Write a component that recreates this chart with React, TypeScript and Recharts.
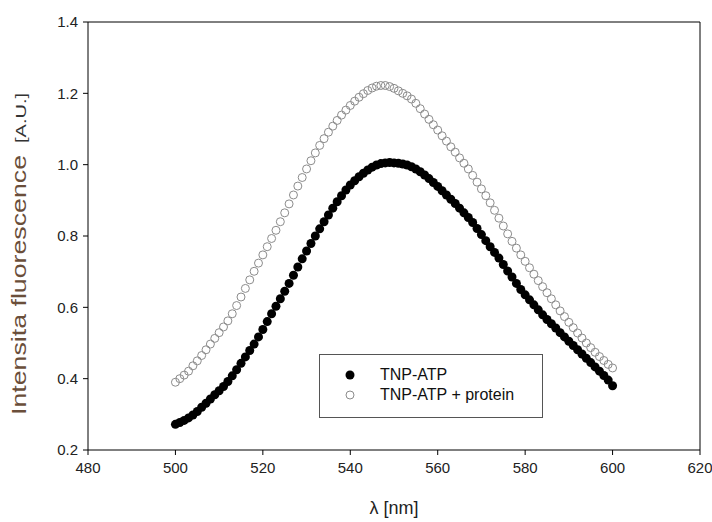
import React from "react";
import { ScatterChart, Scatter, XAxis, YAxis, ReferenceLine, Label } from "recharts";

const wavelengths: number[] = [];
for (let w = 500; w <= 600; w += 1) wavelengths.push(w);

const tnpAtp = [
  0.272, 0.277, 0.283, 0.290, 0.298, 0.308, 0.320, 0.331, 0.343, 0.355,
  0.366, 0.378, 0.392, 0.408, 0.425, 0.443, 0.461, 0.479, 0.497, 0.517,
  0.538, 0.560, 0.582, 0.603, 0.624, 0.645, 0.667, 0.690, 0.713, 0.736,
  0.758, 0.779, 0.800, 0.820, 0.840, 0.859, 0.878, 0.896, 0.913, 0.929,
  0.943, 0.955, 0.966, 0.976, 0.985, 0.993, 0.999, 1.003, 1.005, 1.006,
  1.005, 1.004, 1.002, 0.999, 0.994, 0.988, 0.980, 0.971, 0.961, 0.950,
  0.939, 0.927, 0.915, 0.903, 0.891, 0.878, 0.865, 0.852, 0.838, 0.821,
  0.804, 0.787, 0.770, 0.754, 0.738, 0.720, 0.702, 0.685, 0.667, 0.650,
  0.635, 0.621, 0.607, 0.593, 0.579, 0.566, 0.554, 0.542, 0.529, 0.517,
  0.505, 0.493, 0.481, 0.469, 0.457, 0.445, 0.433, 0.421, 0.409, 0.396,
  0.380,
];

const tnpAtpProtein = [
  0.390, 0.400, 0.410, 0.421, 0.436, 0.450, 0.465, 0.481, 0.497, 0.513,
  0.529, 0.545, 0.562, 0.582, 0.605, 0.629, 0.653, 0.677, 0.701, 0.724,
  0.747, 0.770, 0.793, 0.816, 0.840, 0.865, 0.890, 0.915, 0.940, 0.964,
  0.988, 1.011, 1.033, 1.054, 1.073, 1.091, 1.108, 1.124, 1.139, 1.153,
  1.166, 1.178, 1.189, 1.199, 1.208, 1.215, 1.220, 1.222, 1.222, 1.219,
  1.214, 1.207, 1.200, 1.193, 1.184, 1.172, 1.157, 1.142, 1.127, 1.112,
  1.097, 1.081, 1.066, 1.050, 1.035, 1.019, 1.004, 0.988, 0.970, 0.951,
  0.932, 0.913, 0.893, 0.872, 0.850, 0.828, 0.806, 0.785, 0.766, 0.747,
  0.729, 0.711, 0.693, 0.675, 0.658, 0.641, 0.624, 0.607, 0.590, 0.574,
  0.558, 0.543, 0.528, 0.514, 0.500, 0.487, 0.474, 0.462, 0.451, 0.440,
  0.430,
];

const xTicks = [480, 500, 520, 540, 560, 580, 600, 620];
const yTicks = [0.2, 0.4, 0.6, 0.8, 1.0, 1.2, 1.4];
const seriesNames = ["TNP-ATP", "TNP-ATP + protein"];

const dataA = wavelengths.map((x, i) => ({ x, y: tnpAtp[i] }));
const dataB = wavelengths.map((x, i) => ({ x, y: tnpAtpProtein[i] }));

const FONT = "'Liberation Sans', Arial, sans-serif";

const FilledDot = (p: any) => <circle cx={p.cx} cy={p.cy} r={4.5} fill="#000" />;
const OpenDot = (p: any) => (
  <circle cx={p.cx} cy={p.cy} r={4} fill="none" stroke="#8c8c8c" strokeWidth={1} />
);

const LegendBox = () => (
  <div
    style={{
      position: "absolute",
      left: 319,
      top: 354,
      width: 224,
      height: 64,
      border: "1px solid #555",
      background: "#fff",
      fontFamily: FONT,
      fontSize: 16,
      color: "#111",
      boxSizing: "border-box",
      paddingTop: 10,
    }}
  >
    {seriesNames.map((n, i) => (
      <div key={n} style={{ display: "flex", alignItems: "center", height: 20 }}>
        <svg width={60} height={20}>
          {i === 0 ? (
            <circle cx={30} cy={10} r={4.5} fill="#000" />
          ) : (
            <circle cx={30} cy={10} r={4} fill="none" stroke="#8c8c8c" />
          )}
        </svg>
        <span>{n}</span>
      </div>
    ))}
  </div>
);

const YLabel = () => (
  <g>
    <text
      x={26}
      y={285}
      transform="rotate(-90, 26, 285)"
      textAnchor="middle"
      fontFamily={FONT}
      fontSize={21}
      fill="#6a4e3a"
      textLength={260}
      lengthAdjust="spacingAndGlyphs"
    >
      Intensita fluorescence
    </text>
    <text
      x={26}
      y={118}
      transform="rotate(-90, 26, 118)"
      textAnchor="middle"
      fontFamily={FONT}
      fontSize={15}
      fill="#333"
      textLength={50}
      lengthAdjust="spacingAndGlyphs"
    >
      [A.U.]
    </text>
  </g>
);

export default function App() {
  return (
    <div style={{ position: "absolute", left: 0, top: 0, width: 712, height: 522, background: "#fff" }}>
      <ScatterChart
        width={712}
        height={522}
        margin={{ top: 22, right: 12, bottom: 42, left: 28 }}
      >
        <XAxis
          type="number"
          dataKey="x"
          domain={[480, 620]}
          ticks={xTicks}
          tickSize={5}
          tickMargin={7}
          stroke="#000"
          tick={{ fill: "#222", fontSize: 15, fontFamily: FONT }}
          axisLine={{ stroke: "#000" }}
          tickLine={{ stroke: "#000" }}
          interval={0}
        >
          <Label
            value="λ [nm]"
            position="bottom"
            offset={21}
            style={{ fill: "#222", fontSize: 18, fontFamily: FONT }}
          />
        </XAxis>
        <YAxis
          type="number"
          dataKey="y"
          domain={[0.2, 1.4]}
          ticks={yTicks}
          width={60}
          tickSize={5}
          tickMargin={5}
          tickFormatter={(v: number) => v.toFixed(1)}
          tick={{ fill: "#222", fontSize: 15, fontFamily: FONT }}
          axisLine={{ stroke: "#000" }}
          tickLine={{ stroke: "#000" }}
          interval={0}
          label={<YLabel />}
        />
        <ReferenceLine y={1.4} stroke="#000" strokeWidth={1} />
        <ReferenceLine x={620} stroke="#000" strokeWidth={1} />
        <Scatter
          name={seriesNames[1]}
          data={dataB}
          shape={OpenDot}
          isAnimationActive={false}
        />
        <Scatter
          name={seriesNames[0]}
          data={dataA}
          shape={FilledDot}
          isAnimationActive={false}
        />
      </ScatterChart>
      <LegendBox />
    </div>
  );
}
